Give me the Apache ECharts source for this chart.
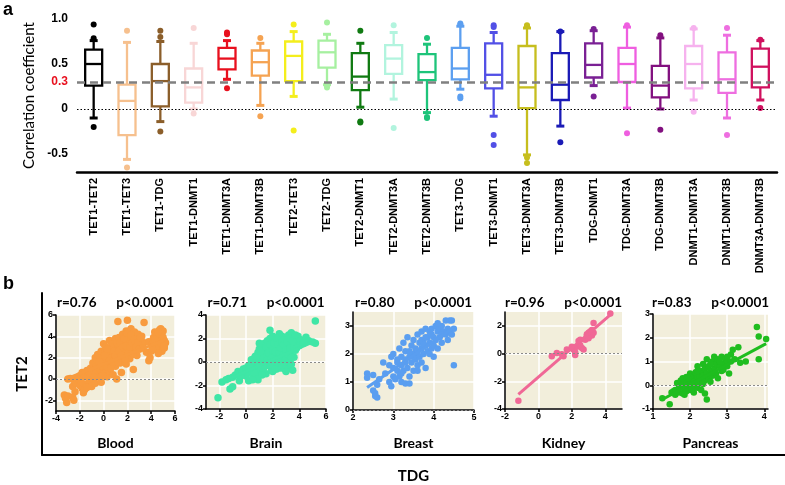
<!DOCTYPE html>
<html>
<head>
<meta charset="utf-8">
<script src="https://cdn.jsdelivr.net/npm/echarts@6/dist/echarts.min.js"></script>
<style>html,body{margin:0;background:#fff}#main{width:785px;height:485px}</style>
</head>
<body>
<div id="main"></div>
<script>
// panel a: correlation boxplots
const pairs = ['TET1-TET2','TET1-TET3','TET1-TDG','TET1-DNMT1','TET1-DNMT3A','TET1-DNMT3B','TET2-TET3','TET2-TDG','TET2-DNMT1','TET2-DNMT3A','TET2-DNMT3B','TET3-TDG','TET3-DNMT1','TET3-DNMT3A','TET3-DNMT3B','TDG-DNMT1','TDG-DNMT3A','TDG-DNMT3B','DNMT1-DNMT3A','DNMT1-DNMT3B','DNMT3A-DNMT3B'];
const boxLow  = [-0.10,-0.56,-0.14, 0.00, 0.33, 0.04, 0.14, 0.27, 0.02, 0.11,-0.04, 0.22,-0.08,-0.51,-0.19, 0.26, 0.01, 0.00, 0.10,-0.10, 0.10];
const boxQ1   = [ 0.26,-0.29, 0.03, 0.07, 0.44, 0.37, 0.31, 0.46, 0.21, 0.39, 0.32, 0.33, 0.23, 0.01, 0.10, 0.35, 0.30, 0.13, 0.23, 0.18, 0.24];
const boxMed  = [ 0.50, 0.09, 0.31, 0.24, 0.56, 0.52, 0.59, 0.63, 0.36, 0.56, 0.41, 0.45, 0.38, 0.24, 0.27, 0.49, 0.50, 0.26, 0.50, 0.33, 0.47];
const boxQ3   = [ 0.66, 0.27, 0.50, 0.45, 0.68, 0.65, 0.75, 0.76, 0.62, 0.71, 0.61, 0.68, 0.73, 0.70, 0.62, 0.73, 0.68, 0.48, 0.70, 0.63, 0.67];
const boxHigh = [ 0.76, 0.74, 0.75, 0.73, 0.76, 0.73, 0.86, 0.83, 0.73, 0.85, 0.72, 0.92, 0.85, 0.90, 0.86, 0.87, 0.91, 0.79, 0.89, 0.82, 0.76];
const outliers = [
  [0.94,0.785,-0.20],[0.87,-0.65],[0.87,0.80,-0.25],[0.90,-0.05],[0.85,0.83,0.23],[0.79,-0.08],
  [0.94,-0.24],[0.96,0.24,0.26],[0.87,-0.15,-0.14],[0.93,-0.21],[0.79,-0.10,-0.09],[0.95,0.94,0.14,0.12],
  [0.93,0.91,-0.29,-0.40],[0.93,0.92,-0.54,-0.60],[0.86,-0.37],[0.89,0.14],[0.93,-0.27],[0.82,-0.23],
  [0.90,-0.03],[0.90,-0.29],[0.77,0.01]
];
const pairColors = ['#000000','#f6c08e','#8b5e2a','#f8d6d6','#e8101e','#f5a352','#f4ee1c','#a6f0a0','#107a12','#b2f4de','#1ec47a','#5c9ff0','#5250e6','#c6be1e','#1a1ab6','#7a2094','#ef5ee0','#82107f','#f6b2ee','#ee6ee0','#d0105e'];
const yTicksA = [-0.5, 0, 0.5, 1.0];
const yTickLabelsA = ['-0.5', '0', '0.5', '1.0'];
const threshold = 0.3;

// panel b: TET2 vs TDG per tissue
const tissues = ['Blood','Brain','Breast','Kidney','Pancreas'];
const rValues = ['0.76','0.71','0.80','0.96','0.83'];
const pValues = ['p<0.0001','p<0.0001','p<0.0001','p<0.0001','p<0.0001'];
const bloodPts = [[-3.3,-1.5],[-3.2,-1.8],[-3.1,-2.2],[-3.0,-1.6],[-2.6,-1.7],[-2.5,-2.0],[-2.4,-1.2],[-2.6,-0.7],[-2.3,-0.4],[-2.5,-0.1],[-3.0,0.0],[-2.8,0.05],[-2.2,0.1],[-2.0,0.3],[-2.0,-0.6],[-1.8,-0.9],[-1.7,-1.3],[-1.6,-1.0],[-1.5,-0.5],[-1.8,0.6],[-1.6,0.2],[-1.4,0.8],[-1.3,0.3],[-1.2,-0.2],[-1.1,1.0],[-1.0,0.5],[-1.0,-0.7],[-0.9,1.5],[-0.9,0.0],[-0.8,0.9],[-0.7,2.0],[-0.7,-0.4],[-0.6,0.6],[-0.5,1.3],[-0.5,2.3],[-0.4,0.2],[-0.3,1.8],[-0.3,0.9],[-0.2,2.6],[-0.2,-0.3],[-0.1,1.2],[0,2.0],[0,0.5],[0,3.3],[0.1,1.6],[0.1,2.7],[0.2,0.9],[0.2,3.0],[0.3,1.9],[0.3,0.2],[0.4,2.4],[0.4,1.3],[0.5,3.6],[0.5,0.8],[0.6,2.0],[0.6,2.9],[0.7,1.5],[0.7,3.3],[0.8,2.5],[0.8,0.4],[0.9,1.9],[0.9,3.0],[1.0,3.8],[1.0,1.2],[1.1,2.6],[1.1,0.0],[1.2,5.4],[1.2,3.2],[1.3,2.0],[1.3,3.9],[1.4,1.5],[1.4,2.9],[1.5,3.5],[1.5,0.6],[1.6,2.4],[1.6,4.2],[1.7,3.0],[1.7,1.8],[1.8,3.7],[1.8,2.6],[1.9,4.5],[1.9,1.4],[2.0,5.5],[2.0,3.3],[2.0,2.2],[2.1,4.0],[2.1,2.9],[2.2,3.6],[2.2,1.9],[2.3,4.7],[2.3,3.1],[2.4,2.5],[2.4,4.1],[2.5,0.9],[2.5,3.5],[2.6,4.4],[2.6,2.8],[2.7,3.9],[2.8,3.3],[2.8,2.2],[2.9,4.2],[3.0,3.6],[3.1,2.9],[3.2,4.0],[3.4,5.3],[3.4,3.4],[3.6,2.5],[3.8,1.7],[3.8,3.5],[3.9,2.0],[4.0,2.6],[4.1,3.2],[4.2,3.9],[4.3,4.4],[4.3,2.9],[4.4,3.5],[4.5,4.1],[4.5,2.7],[4.6,3.3],[4.6,3.8],[4.7,4.6],[4.7,3.0],[4.8,3.6],[4.8,4.3],[4.9,2.6],[4.9,3.9],[5.0,3.2],[5.0,4.5],[5.1,3.6],[5.1,2.9],[4.4,3.0],[4.2,3.5],[5.2,3.4],[4.8,4.7],[4.6,2.4],[4.9,3.3],
  [-1.9,-0.2],[-1.4,-0.8],[-1.2,0.6],[-0.8,0.2],[-0.6,1.2],[-0.4,1.6],[-0.1,0.3],[0.1,2.2],[0.3,1.1],[0.3,2.8],[0.5,1.7],[0.6,1.0],[0.8,1.6],[0.9,2.6],[1.0,2.2],[1.1,3.4],[1.2,1.6],[1.3,2.6],[1.4,3.4],[1.5,2.2],[1.6,3.0],[1.7,3.8],[1.8,1.9],[1.9,3.1],[2.0,4.3],[2.1,2.5],[2.2,3.0],[2.3,4.1],[2.4,3.4],[2.5,2.3],[2.6,3.7],[2.7,3.0],[2.9,3.5],[3.0,2.8],[3.1,3.9],[3.3,2.9],[4.4,4.2],[4.7,3.5],[5.0,3.9],[4.3,3.7],[4.1,2.8],[4.9,4.1],[5.1,3.1],[4.6,4.4]];
const brainPts = [[-2.1,-3.05],[-1.2,-2.3],[-1.0,-2.1],[5.2,3.5],[1.8,2.7],[-1.8,-1.7],[-1.5,-1.5],[-1.3,-1.4],[-1.0,-1.3],[-0.8,-1.1],[-0.6,-0.8],[-0.5,-1.6],[-0.3,-0.9],[-0.2,-0.6],[0,-0.5],[0,-1.2],[0.2,-0.3],[0.2,-1.6],[0.3,-0.8],[0.4,-0.2],[0.4,0.2],[0.5,-1.1],[0.5,-0.5],[0.6,0.3],[0.6,-0.1],[0.7,-0.7],[0.7,0.5],[0.8,0.0],[0.8,-1.3],[0.9,0.8],[0.9,-0.4],[1.0,0.3],[1.0,1.1],[1.0,-0.9],[1.1,0.6],[1.1,-0.2],[1.2,1.3],[1.2,0.0],[1.3,0.9],[1.3,-0.6],[1.4,0.4],[1.4,1.6],[1.5,0.1],[1.5,1.0],[1.5,-1.0],[1.6,0.7],[1.6,1.8],[1.7,-0.3],[1.7,1.3],[1.8,0.4],[1.8,2.0],[1.9,0.9],[1.9,-0.7],[2.0,1.5],[2.0,0.1],[2.0,2.2],[2.1,0.6],[2.1,1.1],[2.2,1.8],[2.2,-0.2],[2.3,0.3],[2.3,1.4],[2.4,2.0],[2.4,0.8],[2.5,-0.4],[2.5,1.2],[2.6,1.7],[2.6,0.0],[2.7,0.5],[2.7,2.2],[2.8,1.0],[2.8,-0.3],[2.9,1.5],[2.9,0.2],[3.0,1.9],[3.0,-0.1],[3.1,0.7],[3.1,1.2],[3.2,2.3],[3.2,0.0],[3.3,1.6],[3.3,-0.5],[3.4,0.9],[3.4,2.5],[3.5,1.3],[3.5,-0.7],[3.6,0.4],[3.6,2.0],[3.7,1.0],[3.8,1.7],[3.9,2.2],[4.0,1.4],[4.1,1.9],[4.3,1.6],[4.5,2.1],[4.7,1.8],[5.0,1.7],[5.2,1.6],[2.0,-0.8],[2.3,-0.6],[2.6,-0.5],[2.9,-0.6],[1.2,-1.1],[0.9,-1.5],[3.0,-0.8],[2.5,2.4],[1.0,1.6],[0.5,-1.5],
  [0.6,-0.9],[0.8,0.5],[1.0,-0.4],[1.1,0.9],[1.3,0.3],[1.4,-0.3],[1.5,1.3],[1.6,0.2],[1.7,0.8],[1.8,1.5],[1.9,0.3],[2.0,1.0],[2.1,1.6],[2.1,-0.4],[2.2,0.9],[2.3,2.0],[2.4,1.5],[2.4,0.3],[2.5,0.8],[2.6,1.2],[2.7,1.7],[2.7,-0.1],[2.8,0.6],[2.8,1.5],[2.9,1.9],[3.0,0.4],[3.0,1.0],[3.1,1.7],[3.2,0.6],[3.3,1.2],[3.3,2.0],[3.4,0.4],[3.5,1.8],[3.6,1.3],[3.7,2.3],[3.8,1.2],[0.3,-0.5],[0.1,-0.8],[-0.4,-1.2],[1.8,-0.2],[2.2,-0.6],[3.4,-0.2]];
const breastPts = [[2.35,1.3],[2.35,1.15],[2.5,1.25],[2.5,0.7],[2.55,0.6],[2.6,0.45],[2.55,0.5],[2.6,0.9],[2.65,1.1],[2.75,1.7],[2.8,1.3],[2.9,1.0],[2.9,1.6],[2.95,0.85],[2.95,1.9],[3.0,1.5],[3.0,1.2],[3.0,2.0],[3.05,1.1],[3.1,1.4],[3.1,1.8],[3.15,1.2],[3.15,2.2],[3.2,1.6],[3.2,1.0],[3.2,1.9],[3.25,1.4],[3.25,2.4],[3.3,1.8],[3.3,0.95],[3.3,2.1],[3.35,1.5],[3.35,2.6],[3.4,1.9],[3.4,1.2],[3.4,0.95],[3.45,2.3],[3.45,1.7],[3.5,2.0],[3.5,2.5],[3.5,1.4],[3.55,2.2],[3.55,1.8],[3.6,2.7],[3.6,2.1],[3.6,1.6],[3.65,2.4],[3.65,1.9],[3.7,2.8],[3.7,2.2],[3.7,1.7],[3.75,2.5],[3.75,2.0],[3.8,2.9],[3.8,2.3],[3.8,1.5],[3.85,2.6],[3.85,2.1],[3.9,2.8],[3.9,2.4],[3.95,2.2],[3.95,2.9],[4.0,2.6],[4.0,2.3],[4.0,1.9],[4.05,3.0],[4.05,2.5],[4.1,2.8],[4.1,2.2],[4.15,2.9],[4.15,2.6],[4.2,3.0],[4.2,2.4],[4.25,2.8],[4.3,2.7],[4.3,3.2],[4.35,2.9],[4.35,2.5],[4.4,3.2],[4.4,2.8],[4.45,3.2],[4.45,2.7],[4.5,2.9],[4.5,1.6],[3.6,2.0],[3.4,2.1],[3.3,1.7],[3.9,2.0],[3.7,2.5],[3.5,1.9],[3.8,2.6],[4.2,2.7],[3.2,1.3],[3.1,1.7],[4.1,3.1],[3.6,1.4],[3.95,2.7],[3.75,2.35]];
const kidneyPts = [[-1.2,-3.4],[0.8,-0.2],[1.1,0.05],[1.4,-0.05],[1.5,-0.2],[1.7,0.3],[2.0,0.4],[2.0,0.5],[2.1,0.3],[2.2,0.1],[2.2,-0.1],[2.3,0.5],[2.4,0.9],[2.5,0.6],[2.5,1.0],[2.6,0.4],[2.7,0.3],[2.8,1.0],[2.9,1.3],[3.0,1.5],[3.0,1.2],[3.1,1.4],[3.1,1.6],[3.2,1.3],[3.2,1.7],[3.3,1.5],[3.3,2.2],[4.3,2.9],[2.9,1.4],[3.0,1.1]];
const pancreasPts = [[1.25,-0.55],[1.45,-0.8],[1.5,-0.3],[1.55,-0.25],[1.6,-0.2],[1.6,-0.4],[1.65,0.1],[1.7,-0.1],[1.7,-0.3],[1.75,0.2],[1.75,-0.05],[1.8,0.0],[1.8,-0.35],[1.8,0.3],[1.85,-0.15],[1.85,0.15],[1.9,0.1],[1.9,-0.25],[1.9,0.35],[1.95,0.0],[1.95,-0.1],[2.0,0.2],[2.0,0.5],[2.0,-0.2],[2.05,0.1],[2.05,0.3],[2.1,0.4],[2.1,0.0],[2.1,-0.3],[2.15,0.2],[2.15,0.55],[2.2,0.3],[2.2,-0.1],[2.2,0.8],[2.25,0.4],[2.25,0.1],[2.3,0.6],[2.3,0.25],[2.3,-0.2],[2.35,0.9],[2.35,0.4],[2.4,0.2],[2.4,0.7],[2.4,-0.35],[2.45,-0.6],[2.45,0.5],[2.45,1.1],[2.5,0.3],[2.5,0.8],[2.55,0.15],[2.55,0.6],[2.6,1.0],[2.6,0.4],[2.65,0.7],[2.65,1.2],[2.7,0.5],[2.7,0.9],[2.75,0.3],[2.75,1.1],[2.8,0.8],[2.85,0.6],[2.85,1.2],[2.9,0.9],[2.9,0.65],[2.95,1.1],[3.0,1.0],[3.0,0.8],[3.05,0.5],[3.1,1.3],[3.1,1.0],[3.15,1.5],[3.2,1.1],[3.3,1.6],[3.35,0.95],[3.5,1.0],[3.8,2.45],[3.85,2.05],[3.85,1.1],[4.05,1.95],[3.0,1.2],[2.2,0.6],[2.0,0.35],[1.95,0.3],[2.1,0.15],[2.35,0.05],[2.55,0.9],[2.8,1.0],[2.6,0.55],[1.85,-0.4],[2.05,-0.15]];
const fitLines = [[[-3.3,-0.05],[5.2,3.7]],[[-1.9,-1.75],[5.2,1.8]],[[2.35,0.8],[4.5,2.95]],[[-1.2,-2.95],[4.3,2.8]],[[1.25,-0.6],[4.05,1.75]]];
const xRanges = [[-4,6],[-3,6],[2,5],[-2,5],[1,4.1]];
const yRanges = [[-3,6],[-4,4],[0,3.5],[-4,3],[-1,3]];
const xTickVals = [[-4,-2,0,2,4,6],[-2,0,2,4,6],[2,3,4,5],[-2,0,2,4],[1,2,3,4]];
const yTickVals = [[-2,0,2,4,6],[-4,-2,0,2,4],[0,1,2,3],[-4,-2,0,2],[-1,0,1,2,3]];
const tissueColors = ['#f89b3e','#3fe6a6','#5a9ef0','#f06896','#1fbd1f'];
const allPts = [bloodPts, brainPts, breastPts, kidneyPts, pancreasPts];

// panel rectangles (layout)
const panelBoxes = [
  {left: 56, top: 315, width: 119, height: 96},
  {left: 206, top: 315, width: 120, height: 94},
  {left: 353, top: 312, width: 121, height: 98},
  {left: 505, top: 312, width: 117, height: 97},
  {left: 653, top: 314, width: 115, height: 95}
];

var chart = echarts.init(document.getElementById('main'));
var numFont = 'Liberation Sans';
var txtFont = 'Lato';

function renderBox(params, api) {
  var i = api.value(0);
  var c = pairColors[i];
  var x = api.coord([i, 0])[0];
  var yLo = api.coord([i, api.value(1)])[1];
  var yQ1 = api.coord([i, api.value(2)])[1];
  var yMed = api.coord([i, api.value(3)])[1];
  var yQ3 = api.coord([i, api.value(4)])[1];
  var yHi = api.coord([i, api.value(5)])[1];
  var hw = 8.5, cw = 4;
  var st = {stroke: c, lineWidth: 2.3, fill: null};
  return {type: 'group', children: [
    {type: 'rect', shape: {x: x - hw, y: yQ3, width: 2 * hw, height: yQ1 - yQ3}, style: {stroke: c, fill: null, lineWidth: 2.3}},
    {type: 'line', shape: {x1: x - hw, y1: yMed, x2: x + hw, y2: yMed}, style: st},
    {type: 'line', shape: {x1: x, y1: yQ3, x2: x, y2: yHi}, style: st},
    {type: 'line', shape: {x1: x - cw, y1: yHi, x2: x + cw, y2: yHi}, style: {stroke: c, lineWidth: 3}},
    {type: 'line', shape: {x1: x, y1: yQ1, x2: x, y2: yLo}, style: st},
    {type: 'line', shape: {x1: x - cw, y1: yLo, x2: x + cw, y2: yLo}, style: {stroke: c, lineWidth: 3}}
  ]};
}

var boxData = pairs.map(function (p, i) {
  return [i, boxLow[i], boxQ1[i], boxMed[i], boxQ3[i], boxHigh[i]];
});
var outlierData = [];
outliers.forEach(function (list, i) {
  list.forEach(function (v) { outlierData.push([i, v]); });
});

var grids = [{left: 77, top: 19, width: 700, height: 153}];
var xAxes = [{
  type: 'category', gridIndex: 0, data: pairs,
  axisLine: {onZero: false, lineStyle: {color: '#000', width: 2.5}},
  axisTick: {show: false},
  axisLabel: {rotate: 90, interval: 0, margin: 6, color: '#000', fontFamily: numFont, fontWeight: 'bold', fontSize: 11}
}];
var yAxes = [{
  type: 'value', gridIndex: 0, min: -0.7, max: 1.0,
  name: 'Correlation coefficient', nameLocation: 'middle', nameGap: 40,
  nameTextStyle: {fontFamily: txtFont, fontSize: 15, color: '#000'},
  axisLine: {lineStyle: {color: '#000', width: 2.5}},
  axisTick: {length: 6, customValues: yTicksA, lineStyle: {width: 2.5, color: '#000'}},
  splitLine: {show: false},
  axisLabel: {show: false}
}];
var series = [
  {type: 'custom', xAxisIndex: 0, yAxisIndex: 0, renderItem: renderBox, data: boxData, encode: {x: 0, y: [1, 2, 3, 4, 5]}, z: 3},
  {
    type: 'scatter', xAxisIndex: 0, yAxisIndex: 0, data: outlierData, symbolSize: 6, z: 4,
    itemStyle: {color: function (p) { return pairColors[p.value[0]]; }, opacity: 1},
    markLine: {
      silent: true, symbol: 'none', label: {show: false},
      data: [
        {yAxis: threshold, lineStyle: {color: '#808080', width: 2.5, type: [8, 5]}},
        {yAxis: 0, lineStyle: {color: '#000', width: 1, type: [1.5, 2]}}
      ]
    }
  }
];

var graphics = [
  {id: 'lblA', type: 'text', x: 3, y: 1, style: {text: 'a', font: 'bold 18px "Liberation Sans"', fill: '#000'}},
  {id: 'lblB', type: 'text', x: 3, y: 275, style: {text: 'b', font: 'bold 18px "Liberation Sans"', fill: '#000'}}
];

tissues.forEach(function (t, k) {
  var g = k + 1;
  var b = panelBoxes[k];
  grids.push({left: b.left, top: b.top, width: b.width, height: b.height, show: true, backgroundColor: '#f2eedb', borderWidth: 0});
  xAxes.push({
    type: 'value', gridIndex: g, min: xRanges[k][0], max: xRanges[k][1],
    name: t, nameLocation: 'middle', nameGap: 436 - (b.top + b.height),
    nameTextStyle: {fontFamily: txtFont, fontWeight: 'bold', fontSize: 14, color: '#000'},
    axisLine: {onZero: false, lineStyle: {color: '#000', width: 1.5}},
    axisTick: {length: 3, customValues: xTickVals[k], lineStyle: {color: '#000', width: 1.5}},
    axisLabel: {customValues: xTickVals[k], margin: 3, fontFamily: numFont, fontWeight: 'bold', fontSize: 9, color: '#000'},
    splitLine: {show: true, lineStyle: {color: '#ffffff', width: 1.5}}
  });
  yAxes.push({
    type: 'value', gridIndex: g, min: yRanges[k][0], max: yRanges[k][1],
    axisLine: {onZero: false, lineStyle: {color: '#000', width: 1.5}},
    axisTick: {length: 3, customValues: yTickVals[k], lineStyle: {color: '#000', width: 1.5}},
    axisLabel: {customValues: yTickVals[k], margin: 3, fontFamily: numFont, fontWeight: 'bold', fontSize: 9, color: '#000'},
    splitLine: {show: true, lineStyle: {color: '#ffffff', width: 1.5}}
  });
  series.push({
    type: 'scatter', xAxisIndex: g, yAxisIndex: g, data: allPts[k],
    symbolSize: k < 2 ? 7.5 : 6.5, itemStyle: {color: tissueColors[k], opacity: 1}, z: 3,
    markLine: {
      silent: true, symbol: 'none', label: {show: false},
      lineStyle: {color: '#8a8a8a', width: 1, type: [2, 2]},
      data: [{yAxis: 0}]
    }
  });
  series.push({
    type: 'line', xAxisIndex: g, yAxisIndex: g, data: fitLines[k],
    symbol: 'none', lineStyle: {color: tissueColors[k], width: 3}, z: 4
  });
  graphics.push({
    id: 'rp' + k, type: 'text', x: b.left + b.width / 2, y: 303,
    style: {text: 'r=' + rValues[k] + '      ' + pValues[k], font: 'bold 13.5px Lato', fill: '#000', align: 'center', verticalAlign: 'middle'}
  });
});

// outer frame for panel b with shared axis titles
grids.push({left: 42, top: 293, right: 0, bottom: 23});
xAxes.push({
  type: 'value', gridIndex: 6, min: 0, max: 1,
  name: 'TDG', nameLocation: 'middle', nameGap: 14,
  nameTextStyle: {fontFamily: txtFont, fontWeight: 'bold', fontSize: 15, color: '#000'},
  axisLine: {onZero: false, lineStyle: {color: '#000', width: 2}},
  axisTick: {show: false}, axisLabel: {show: false}, splitLine: {show: false}
});
yAxes.push({
  type: 'value', gridIndex: 6, min: 0, max: 1,
  name: 'TET2', nameLocation: 'middle', nameGap: 12,
  nameTextStyle: {fontFamily: txtFont, fontWeight: 'bold', fontSize: 15, color: '#000'},
  axisLine: {show: true, onZero: false, lineStyle: {color: '#000', width: 2}},
  axisTick: {show: false}, axisLabel: {show: false}, splitLine: {show: false}
});

chart.setOption({
  backgroundColor: '#ffffff',
  animation: false,
  grid: grids,
  xAxis: xAxes,
  yAxis: yAxes,
  series: series,
  graphic: graphics
});

// y tick labels of panel a: y from the axis scale, right edge just left of the ticks
var tickTexts = yTicksA.map(function (v, i) {
  return {value: v, text: yTickLabelsA[i], color: '#000'};
}).concat([{value: threshold, text: '0.3', color: '#e8101e'}]);
chart.setOption({
  graphic: tickTexts.map(function (t, i) {
    return {
      id: 'ytick' + i, type: 'text', x: 68, y: chart.convertToPixel({yAxisIndex: 0}, t.value),
      style: {text: t.text, font: 'bold 12px "Liberation Sans"', fill: t.color, align: 'right', verticalAlign: 'middle'}
    };
  })
});
</script>
</body>
</html>
